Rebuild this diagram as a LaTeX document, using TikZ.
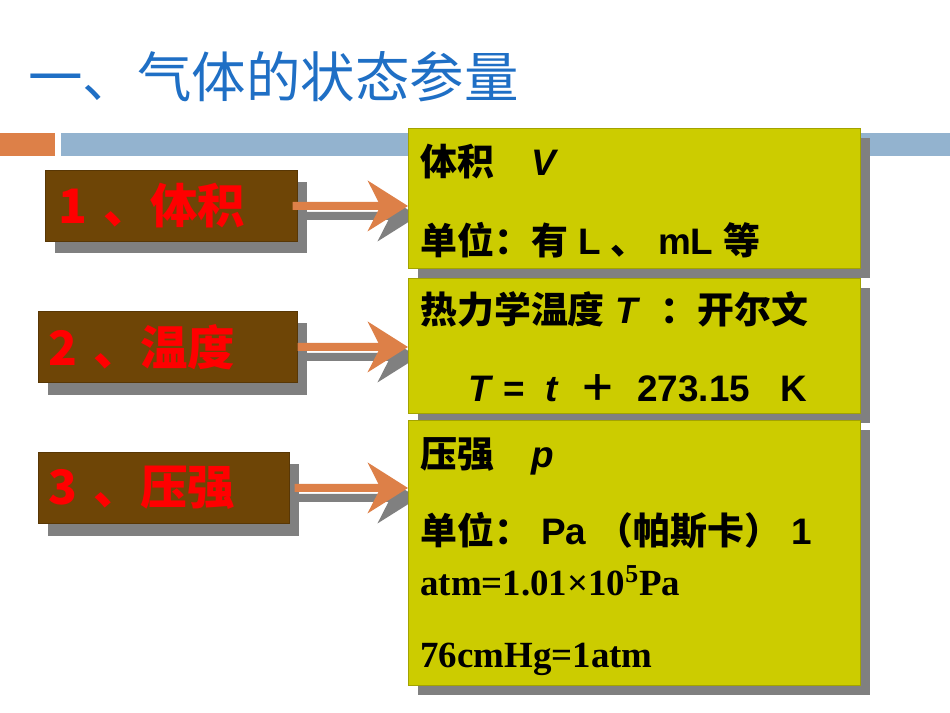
\documentclass[tikz,border=0pt]{standalone}
\usepackage{fontspec}
\setmainfont{Liberation Serif}
\setsansfont{Liberation Sans}
\newfontfamily\cjk{Noto Sans CJK SC}
\usetikzlibrary{arrows.meta}
\definecolor{tblue}{HTML}{1F6FC5}
\definecolor{brn}{HTML}{6E4506}
\definecolor{ylw}{HTML}{CCCC00}
\definecolor{org}{HTML}{DD8048}
\definecolor{bbar}{HTML}{93B3CF}
\definecolor{shd}{HTML}{808080}
\tikzset{
 lbox/.style={fill=brn,draw=brn!80!black,minimum height=1.42cm,anchor=north west,text=red,font=\sffamily\bfseries\fontsize{27}{28}\selectfont,inner sep=0pt,text width=#1,align=left},
 rbox/.style={fill=ylw,draw=ylw!80!black,anchor=north west,minimum width=9.04cm},
 rt/.style={anchor=west,font=\sffamily\bfseries\fontsize{21}{23}\selectfont,inner sep=0pt},
 arr/.style={line width=0.16cm,-{Stealth[length=0.8cm,width=1.0cm,inset=0.25cm]}},
}
\newcommand{\bcjk}[1]{{\cjk\bfseries #1}}
\begin{document}
\begin{tikzpicture}[x=0.02cm,y=-0.02cm]
\useasboundingbox (0,0) rectangle (950,713);
\fill[white] (0,0) rectangle (950,713);
\node[anchor=west,text=tblue,font=\cjk\fontsize{31}{34}\selectfont,inner sep=0] (title) at (28,77) {一、气体的状态参量};
\fill[org] (0,133) rectangle (55,156);
\fill[bbar] (61,133) rectangle (950,156);
% shadows
\fill[shd] (55,182) rectangle (307,253);
\fill[shd] (48,323) rectangle (307,395);
\fill[shd] (48,464) rectangle (299,536);
\fill[shd] (418,138) rectangle (870,278);
\fill[shd] (418,288) rectangle (870,423);
\fill[shd] (418,430) rectangle (870,695);
% left boxes
\node[lbox=5.04cm] (l1) at (45,170) {\hspace*{0.26cm}\cjk 1 、体积};
\node[lbox=5.18cm] (l2) at (38,311) {\hspace*{0.2cm}\cjk 2 、温度};
\node[lbox=5.02cm] (l3) at (38,452) {\hspace*{0.2cm}\cjk 3 、压强};
\coordinate (a1) at (408,206);
\coordinate (a2) at (408,347);
\coordinate (a3) at (408,488);
% arrows shadows
\draw[arr,shd] ([xshift=0.14cm,yshift=-0.2cm]l1.east) -- ([xshift=0.2cm,yshift=-0.2cm]a1);
\draw[arr,shd] ([xshift=0.14cm,yshift=-0.2cm]l2.east) -- ([xshift=0.2cm,yshift=-0.2cm]a2);
\draw[arr,shd] ([xshift=0.14cm,yshift=-0.2cm]l3.east) -- ([xshift=0.2cm,yshift=-0.2cm]a3);
\node[rbox,minimum height=2.8cm] (r1) at (408,128) {};
\node[rbox,minimum height=2.7cm] (r2) at (408,278) {};
\node[rbox,minimum height=5.3cm] (r3) at (408,420) {};
\draw[arr,org] ([xshift=-0.1cm]l1.east) -- (a1);
\draw[arr,org] (l2.east) -- (a2);
\draw[arr,org] ([xshift=0.1cm]l3.east) -- (a3);
% texts
\node[rt] (t1) at (420,162) {\bcjk{体积}\quad \textit{V}};
\node[rt] (t2) at (420,240) {\bcjk{单位：有} L \bcjk{、} mL \bcjk{等}};
\node[rt] (t3) at (420,309) {\bcjk{热力学温度} \textit{T} \ \bcjk{：开尔文}};
\node[rt] (t4) at (468,388) {\textit{T} = \ \textit{t} \ \bcjk{＋}\ \ 273.15 \ \ K};
\node[rt] (t5) at (420,456) {\bcjk{压强}\quad \textit{p}};
\node[rt] (t6) at (420,531) {\bcjk{单位：} Pa \bcjk{（帕斯卡）} 1};
\node[rt,font=\rmfamily\bfseries\fontsize{21}{23}\selectfont] (t7) at (420,581) {atm=1.01×10\textsuperscript{5}Pa};
\node[rt,font=\rmfamily\bfseries\fontsize{21}{23}\selectfont] (t8) at (420,659) {76cmHg=1atm};
\end{tikzpicture}
\end{document}
